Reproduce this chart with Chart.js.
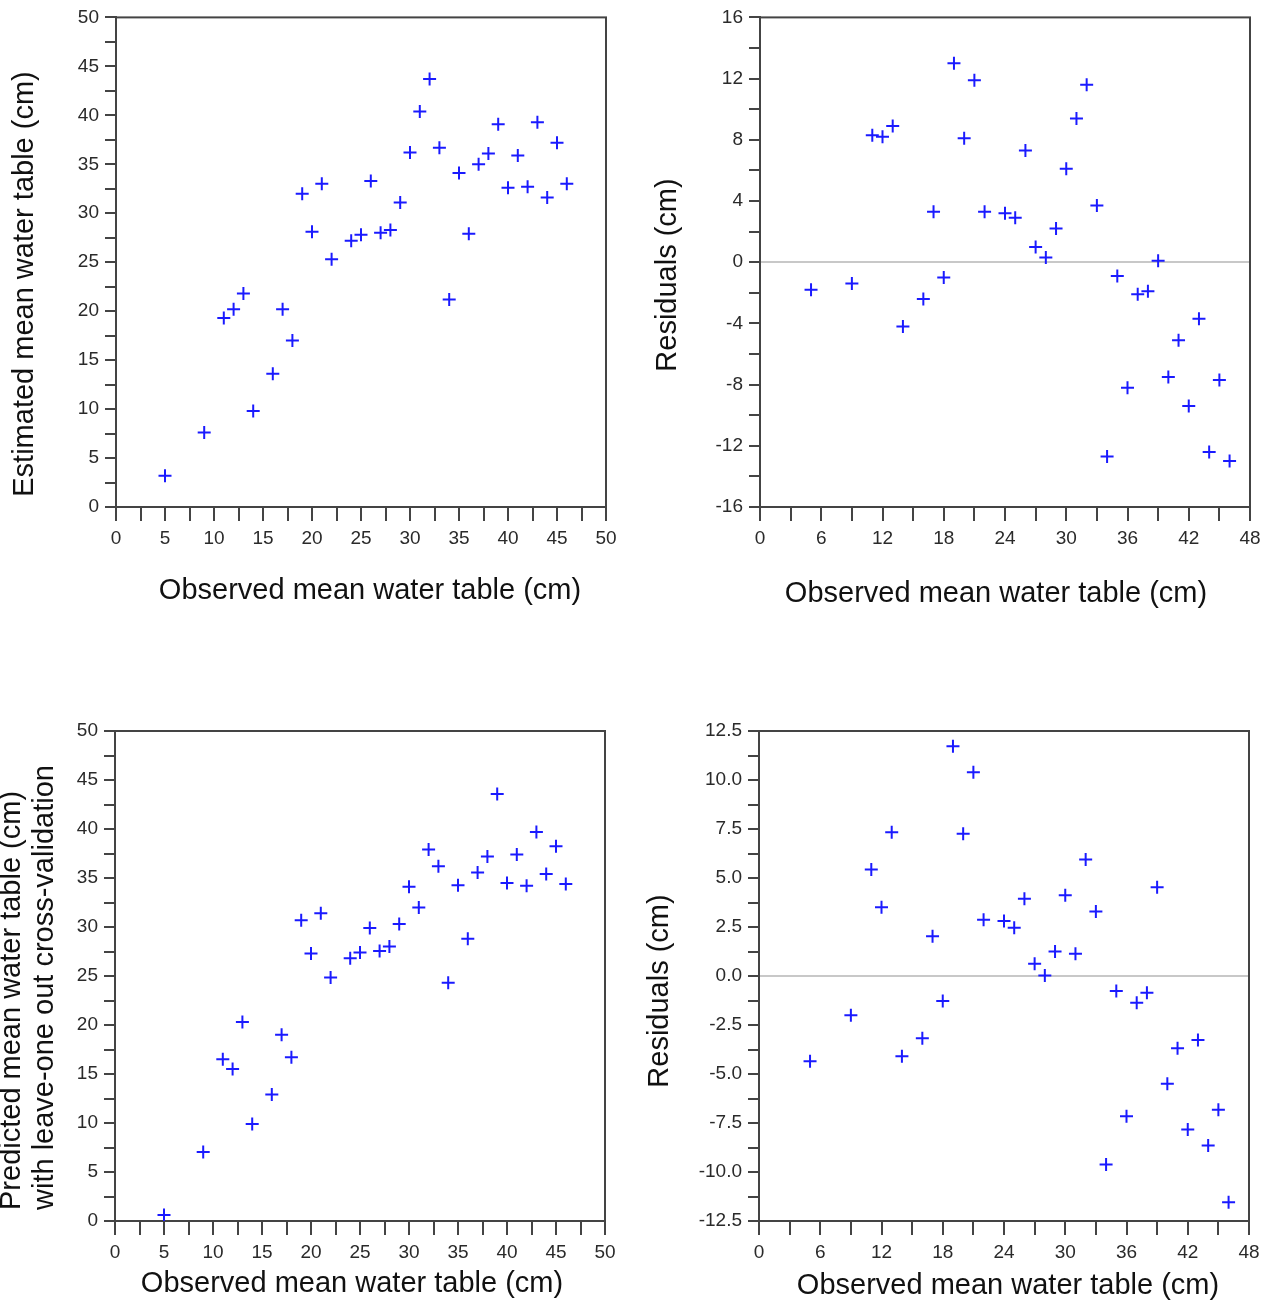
<!DOCTYPE html>
<html>
<head>
<meta charset="utf-8">
<title>Observed vs estimated mean water table</title>
<script src="https://cdn.jsdelivr.net/npm/chart.js@4.4.1/dist/chart.umd.min.js"></script>
<style>
  body { margin: 0; background: #fff; }
  #wrap { position: relative; width: 1273px; height: 1306px; }
  canvas { position: absolute; }
</style>
</head>
<body>
<div id="wrap">
  <canvas id="est" width="636" height="625" style="left:0;top:0"></canvas>
  <canvas id="res" width="637" height="625" style="left:636px;top:0"></canvas>
  <canvas id="cv" width="636" height="681" style="left:0;top:625px"></canvas>
  <canvas id="cvres" width="637" height="681" style="left:636px;top:625px"></canvas>
</div>
<script>
// observed mean water table (cm), shared by all four panels
const observed = [5, 9, 11, 12, 13, 14, 16, 17, 18, 19, 20, 21, 22, 24, 25, 26, 27, 28,
  29, 30, 31, 32, 33, 34, 35, 36, 37, 38, 39, 40, 41, 42, 43, 44, 45, 46];

// estimated mean water table (cm)
const estimated = [3.2, 7.6, 19.3, 20.2, 21.8, 9.8, 13.6, 20.2, 17.0, 32.0, 28.1, 33.0, 25.3,
  27.2, 27.8, 33.3, 28.0, 28.3, 31.1, 36.2, 40.4, 43.7, 36.7, 21.2, 34.1, 27.9, 35.0, 36.1,
  39.1, 32.6, 35.9, 32.7, 39.3, 31.6, 37.2, 33.0];

// residuals of the fitted model (cm)
const residuals = [-1.8, -1.4, 8.3, 8.2, 8.9, -4.2, -2.4, 3.3, -1.0, 13.0, 8.1, 11.9, 3.3,
  3.2, 2.9, 7.3, 1.0, 0.3, 2.2, 6.1, 9.4, 11.6, 3.7, -12.7, -0.9, -8.2, -2.1, -1.9, 0.1,
  -7.5, -5.1, -9.4, -3.7, -12.4, -7.7, -13.0];

// predicted with leave-one-out cross-validation (cm)
const predicted = [0.6, 7.05, 16.5, 15.5, 20.3, 9.9, 12.9, 19.0, 16.7, 30.7, 27.3, 31.4, 24.85,
  26.8, 27.4, 29.9, 27.55, 28.0, 30.3, 34.1, 32.0, 37.9, 36.2, 24.3, 34.25, 28.8, 35.55, 37.2,
  43.56, 34.5, 37.4, 34.2, 39.7, 35.4, 38.24, 34.4];

// cross-validation residuals (cm)
const cvResiduals = [-4.35, -2.0, 5.43, 3.51, 7.34, -4.09, -3.17, 2.03, -1.28, 11.72, 7.26,
  10.4, 2.87, 2.8, 2.46, 3.94, 0.62, 0.02, 1.25, 4.12, 1.13, 5.94, 3.29, -9.62, -0.77, -7.15,
  -1.37, -0.86, 4.53, -5.5, -3.68, -7.83, -3.26, -8.65, -6.83, -11.54];

const xTitle = "Observed mean water table (cm)";
const FONT = "'Liberation Sans', Arial, sans-serif";
const AXIS = "#444";

// frame round the plot area
const boxPlugin = {
  id: "box",
  beforeDatasetsDraw(chart) {
    const { ctx, chartArea: a } = chart;
    ctx.save();
    ctx.strokeStyle = AXIS;
    ctx.lineWidth = 2;
    ctx.strokeRect(a.left, a.top, a.right - a.left, a.bottom - a.top);
    ctx.restore();
  },
};

// axis titles, placed where the original figure has them (not always centred)
const titlePlugin = {
  id: "titles",
  afterDraw(chart, args, opts) {
    const { ctx } = chart;
    ctx.save();
    ctx.fillStyle = "#111";
    ctx.font = "29px " + FONT;
    ctx.textBaseline = "middle";
    opts.items.forEach((t) => {
      ctx.save();
      ctx.translate(t.x, t.y);
      if (t.rotate) ctx.rotate(-Math.PI / 2);
      ctx.textAlign = t.align || "center";
      [].concat(t.text).forEach((line, i) => ctx.fillText(line, 0, i * 33));
      ctx.restore();
    });
    ctx.restore();
  },
};

function near(v, step) {
  return Math.abs(v / step - Math.round(v / step)) < 1e-9;
}

function axis(o) {
  return {
    type: "linear",
    min: o.min,
    max: o.max,
    border: { display: true, color: AXIS, width: 2 },
    grid: {
      drawOnChartArea: !!o.zero,
      color: (c) => (o.zero && c.tick && c.tick.value === 0 ? "#c8c8c8" : "rgba(0,0,0,0)"),
      lineWidth: 2,
      tickLength: o.tickLength,
      tickColor: AXIS,
      tickWidth: 2,
    },
    ticks: {
      stepSize: o.step,
      autoSkip: false,
      maxRotation: 0,
      padding: o.labelPad,
      color: "#2a2a2a",
      font: { family: FONT, size: 19 },
      callback: (v) => (near(v, o.every) ? (o.fmt ? o.fmt(v) : v) : ""),
    },
    title: { display: false },
    afterFit: o.fit,
  };
}

function panel(id, ys, o) {
  const points = observed.map((x, i) => ({ x, y: ys[i] }));
  return new Chart(document.getElementById(id), {
    type: "scatter",
    data: {
      datasets: [{
        data: points,
        pointStyle: "cross",
        pointRadius: 6.5,
        pointHoverRadius: 6.5,
        borderColor: "#1a1aff",
        borderWidth: 2,
      }],
    },
    options: {
      responsive: false,
      animation: false,
      events: [],
      layout: { padding: o.pad },
      plugins: {
        legend: { display: false },
        tooltip: { enabled: false },
        titles: { items: o.titles },
      },
      scales: {
        x: axis(Object.assign({ tickLength: 14, labelPad: 6 }, o.x)),
        y: axis(Object.assign({ tickLength: 11, labelPad: 6 }, o.y)),
      },
    },
    plugins: [boxPlugin, titlePlugin],
  });
}

panel("est", estimated, {
  pad: { top: 17, right: 30, left: 0, bottom: 0 },
  x: { min: 0, max: 50, step: 2.5, every: 5, fit: (s) => { s.height = 118; } },
  y: { min: 0, max: 50, step: 2.5, every: 5, fit: (s) => { s.width = 116; } },
  titles: [
    { text: xTitle, x: 370, y: 591 },
    { text: "Estimated mean water table (cm)", x: 25, y: 284, rotate: true },
  ],
});

panel("res", residuals, {
  pad: { top: 17, right: 23, left: 0, bottom: 0 },
  x: { min: 0, max: 48, step: 3, every: 6, fit: (s) => { s.height = 118; } },
  y: { min: -16, max: 16, step: 2, every: 4, zero: true, fit: (s) => { s.width = 124; } },
  titles: [
    { text: xTitle, x: 360, y: 594 },
    { text: "Residuals (cm)", x: 32, y: 275, rotate: true },
  ],
});

panel("cv", predicted, {
  pad: { top: 106, right: 31, left: 0, bottom: 0 },
  x: { min: 0, max: 50, step: 2.5, every: 5, fit: (s) => { s.height = 85; } },
  y: { min: 0, max: 50, step: 2.5, every: 5, fit: (s) => { s.width = 115; } },
  titles: [
    { text: xTitle, x: 352, y: 659 },
    { text: ["Predicted mean water table (cm)", "with leave-one out cross-validation"],
      x: 12, y: 585, rotate: true, align: "left" },
  ],
});

panel("cvres", cvResiduals, {
  pad: { top: 106, right: 24, left: 0, bottom: 0 },
  x: { min: 0, max: 48, step: 3, every: 6, fit: (s) => { s.height = 85; } },
  y: { min: -12.5, max: 12.5, step: 1.25, every: 2.5, zero: true, fmt: (v) => v.toFixed(1),
       fit: (s) => { s.width = 123; } },
  titles: [
    { text: xTitle, x: 372, y: 661 },
    { text: "Residuals (cm)", x: 24, y: 366, rotate: true },
  ],
});
</script>
</body>
</html>
